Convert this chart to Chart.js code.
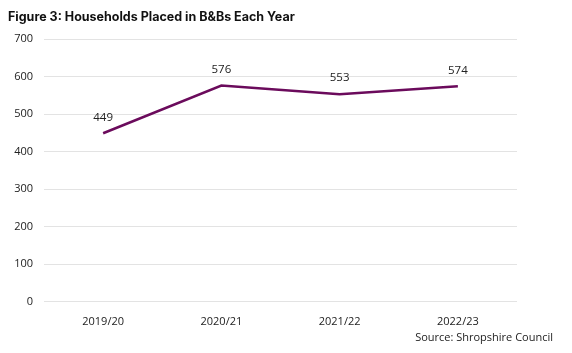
<!DOCTYPE html>
<html>
<head>
<meta charset="utf-8">
<script src="https://cdn.jsdelivr.net/npm/chart.js@4"></script>
<style>
  html, body { margin: 0; padding: 0; background: #fff; }
  #wrap { width: 572px; height: 353px; }
</style>
</head>
<body>
<div id="wrap"><canvas id="myChart" width="572" height="353"></canvas></div>
<script>
// Datos
const years = ['2019/20', '2020/21', '2021/22', '2022/23'];
const households = [449, 576, 553, 574];
const yTicks = [0, 100, 200, 300, 400, 500, 600, 700];
const sourceText = 'Source: Shropshire Council';

// Etiquetas encima de cada punto + fuente abajo a la derecha
const extras = {
    id: 'extras',
    afterDatasetsDraw(chart) {
        const ctx = chart.ctx;
        const meta = chart.getDatasetMeta(0);
        ctx.save();
        ctx.font = '11.5px "Open Sans", sans-serif';
        ctx.fillStyle = '#222';
        ctx.textAlign = 'center';
        ctx.textBaseline = 'middle';
        meta.data.forEach((pt, i) => {
            ctx.fillText(households[i], pt.x, pt.y - 16);
        });
        ctx.font = '11px "Open Sans", sans-serif';
        ctx.textAlign = 'right';
        ctx.fillText(sourceText, chart.width - 19, chart.height - 15);
        ctx.restore();
    }
};

function crearLineaChart() {
    const ctx = document.getElementById('myChart').getContext('2d');
    new Chart(ctx, {
        type: 'line',
        data: {
            labels: years,
            datasets: [{
                label: 'Households',
                data: households,
                borderColor: '#6b0b5c',
                borderWidth: 2.5,
                pointRadius: 0,
                fill: false,
                tension: 0
            }]
        },
        options: {
            responsive: false,
            animation: false,
            layout: { padding: { left: 8, right: 55, top: 0, bottom: 12 } },
            plugins: {
                legend: { display: false },
                tooltip: { enabled: false },
                title: {
                    display: true,
                    text: 'Figure 3: Households Placed in B&Bs Each Year',
                    align: 'start',
                    color: '#111',
                    font: { family: 'Inter', size: 12.5, weight: 'bold' },
                    padding: { top: 10, bottom: 14 }
                }
            },
            scales: {
                x: {
                    offset: true,
                    grid: { display: false, drawTicks: false },
                    border: { display: false },
                    ticks: { color: '#222', font: { family: '"Open Sans", sans-serif', size: 11 }, padding: 13 }
                },
                y: {
                    min: 0,
                    max: 700,
                    afterBuildTicks: axis => { axis.ticks = yTicks.map(v => ({ value: v })); },
                    afterFit: axis => { axis.width = 36; },
                    grid: { color: '#e3e3e3', drawTicks: false },
                    border: { display: false },
                    ticks: { color: '#222', font: { family: '"Open Sans", sans-serif', size: 11 }, padding: 11 }
                }
            }
        },
        plugins: [extras]
    });
}

crearLineaChart();
</script>
</body>
</html>
